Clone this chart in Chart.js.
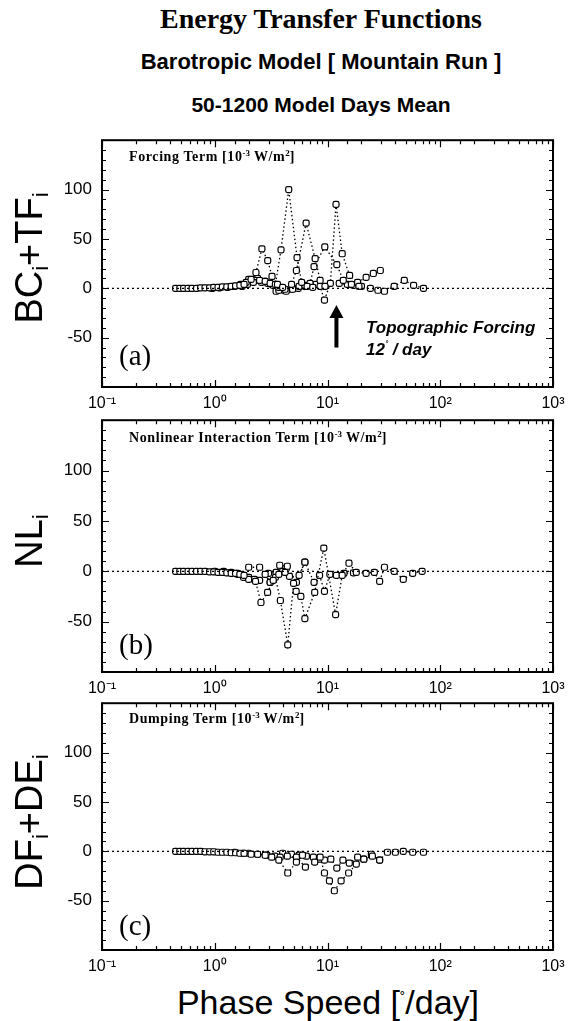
<!DOCTYPE html>
<html lang="en">
  <head>
    <meta charset="UTF-8" />
    <title>Energy Transfer Functions</title>
    <script src="https://cdn.jsdelivr.net/npm/chart.js"></script>
    <style>
      html,
      body {
        margin: 0;
        padding: 0;
        background: #fff;
      }
      #page {
        position: relative;
        width: 580px;
        height: 1021px;
        overflow: hidden;
        background: #fff;
        color: #000;
      }
      canvas {
        position: absolute;
        left: 0;
      }
      .txt {
        position: absolute;
        white-space: nowrap;
        line-height: 1;
      }
      .sans {
        font-family: "Liberation Sans", Arial, sans-serif;
      }
      .serif {
        font-family: "Liberation Serif", "Times New Roman", serif;
      }
      .center {
        transform: translate(-50%, -50%);
      }
      .ylab {
        transform: translate(-50%, -50%) rotate(-90deg);
        font-size: 38px;
      }
      .ylab sub {
        font-size: 22px;
        vertical-align: -6px;
      }
      .inner {
        font-size: 14px;
        font-weight: bold;
        letter-spacing: 0.6px;
        transform: translateY(-50%);
      }
      .inner sup {
        font-size: 9px;
        vertical-align: 5px;
        letter-spacing: 0;
      }
      .plab {
        font-size: 29px;
        transform: translateY(-50%);
      }
    </style>
  </head>
  <body>
    <div id="page">
      <div class="txt serif center" style="left: 321px; top: 19px; font-size: 28px; font-weight: bold">
        Energy Transfer Functions
      </div>
      <div class="txt sans center" style="left: 321px; top: 62px; font-size: 22px; font-weight: bold">
        Barotropic Model [ Mountain Run ]
      </div>
      <div class="txt sans center" style="left: 321px; top: 104px; font-size: 21px; font-weight: bold">
        50-1200 Model Days Mean
      </div>

      <canvas id="panelA" width="580" height="300" style="top: 120px"></canvas>
      <canvas id="panelB" width="580" height="305" style="top: 400px"></canvas>
      <canvas id="panelC" width="580" height="300" style="top: 683px"></canvas>

      <div class="txt sans ylab" style="left: 31px; top: 258px">BC<sub>i</sub>+TF<sub>i</sub></div>
      <div class="txt sans ylab" style="left: 31px; top: 541px">NL<sub>i</sub></div>
      <div class="txt sans ylab" style="left: 31px; top: 822px">DF<sub>i</sub>+DE<sub>i</sub></div>

      <div class="txt serif inner" style="left: 129px; top: 156px">
        Forcing Term [10<sup>-3</sup> W/m<sup>2</sup>]
      </div>
      <div class="txt serif inner" style="left: 129px; top: 437px">
        Nonlinear Interaction Term [10<sup>-3</sup> W/m<sup>2</sup>]
      </div>
      <div class="txt serif inner" style="left: 129px; top: 718px">
        Dumping Term [10<sup>-3</sup> W/m<sup>2</sup>]
      </div>

      <div class="txt serif plab" style="left: 119px; top: 355px">(a)</div>
      <div class="txt serif plab" style="left: 119px; top: 644px">(b)</div>
      <div class="txt serif plab" style="left: 119px; top: 925px">(c)</div>

      <div class="txt sans" style="left: 366px; top: 319px; font-size: 17px; font-weight: bold; font-style: italic">
        Topographic Forcing
      </div>
      <div class="txt sans" style="left: 366px; top: 341px; font-size: 17px; font-weight: bold; font-style: italic">
        12<sup style="font-size: 9px">˚</sup> / day
      </div>

      <div class="txt sans center" style="left: 328px; top: 1002px; font-size: 34px">
        Phase Speed [<sup style="font-size: 16px; vertical-align: 10px">˚</sup>/day]
      </div>
    </div>

    <script>
      // axis ticks
      const xTickValues = [0.1, 1, 10, 100, 1000];
      const xTickLabels = ["10⁻¹", "10⁰", "10¹", "10²", "10³"];
      const yTickLabels = [-50, 0, 50, 100];
      const topoSpeed = 12; // topographic forcing arrow

      // slow modes, shared by all panels
      const lowSpeeds = [0.45, 0.49, 0.53, 0.58, 0.63, 0.69, 0.75, 0.82, 0.9, 0.98, 1.07, 1.17, 1.28, 1.4, 1.53, 1.67, 1.82];

      // (a) forcing term, one row per series
      const forcingSpeeds = [
        lowSpeeds,
        [0.95, 1.1, 1.3, 1.5, 1.7, 1.9, 2.1, 2.32, 2.62, 2.95, 3.22, 3.6, 4.0],
        [1.75, 1.95, 2.2, 2.5, 2.8, 3.1, 3.45, 3.87, 4.53, 5.37, 5.9, 6.6, 7.4],
        [2.0, 2.3, 2.6, 2.95, 3.3, 3.7, 4.2, 4.8, 5.3, 6.46, 7.77, 8.6, 9.5],
        [2.4, 2.8, 3.2, 3.7, 4.3, 4.9, 5.6, 6.3, 7.0, 7.6, 9.46, 12.1, 13.8, 16.3, 19],
        [3.5, 4.1, 4.8, 5.5, 6.3, 7.1, 7.9, 8.6, 9.4, 10.6, 11.9, 13.5, 15.7, 18.5, 22, 25.5, 29.4],
        [12.7, 15, 17, 20, 24, 28, 32, 39, 48, 58, 71],
      ];
      const forcingValues = [
        [0, 0, 0, 0, 0, 0, 0.5, 0.5, 0.5, 1, 1, 1.5, 1.5, 2, 2.5, 3, 4],
        [0, 0.5, 1, 2, 4, 6, 9, 16, 40, 28, 12, 4, 1],
        [2, 4, 6, 8, 7, 5, 4, 39, 100, 31, 6, 2, 1],
        [9, 8, 6, 5, 3, 1, -1, 4, 18, 66, 30, 8, 2],
        [10, 7, 4, -2, -3, -1, 2, 3, 5, 22, 42, 24, 8, 4, 2],
        [-3, -2, -1, 0, 2, 3, 4, 2, -12, 5, 85, 35, 13, 6, 11, 15, 18],
        [5, 4, 3, 2, 0, -2, -3, 2, 8, 3, 0],
      ];

      // (b) nonlinear interaction term
      const nonlinSpeeds = [
        lowSpeeds,
        [1.0, 1.2, 1.4, 1.6, 1.8, 2.0, 2.3, 2.57, 2.94, 3.3, 3.7, 4.2],
        [1.6, 1.8, 2.0, 2.25, 2.5, 2.8, 3.1, 3.45, 3.82, 4.44, 5.0, 5.6, 6.3],
        [3.0, 3.5, 4.0, 4.6, 5.27, 5.8, 6.3, 7.7, 9.27, 11.8, 13.5, 15.5, 18, 22, 26, 29, 32, 39, 47, 57, 69],
        [2.0, 2.5, 3.1, 3.77, 4.4, 5.3, 6.3, 7.6, 8.5, 9.4, 10.5, 12, 14, 17],
      ];
      const nonlinValues = [
        [0, 0, 0, 0, 0, 0, 0, 0, -0.5, -0.5, -1, -1, -1.5, -2, -2, -3, -4],
        [0, 0, -1, -3, -6, -8, -10, -31, -21, -9, -3, -1],
        [-2, -4, -6, -8, -9, -3, -11, -6, -29, -73, -12, -4, 9],
        [-2, -1, 0, -5, -20, -25, -47, -21, 23, -43, -4, 8, -1, -2, -1, -10, 4, 0, -8, -2, 0],
        [4, 4, -11, 6, 5, -11, 9, -11, -4, -20, -3, -4, -2, -1.5],
      ];

      // (c) dumping term
      const dampSpeeds = [
        lowSpeeds,
        [1.5, 1.8, 2.1, 2.4, 2.8, 3.2, 3.7, 4.44, 5.3, 6.0],
        [2.0, 2.4, 2.9, 3.4, 3.8, 4.4, 5.3, 6.37, 7.7, 8.6, 9.4, 10.4, 11.5, 13.2, 15.4, 18, 21, 25, 29],
        [4.0, 4.8, 5.6, 6.5, 7.5, 8.5, 9.4, 10.7, 12.1, 13.7, 15.6, 18.5, 21, 24.5, 29, 34, 40, 47, 57, 71],
      ];
      const dampValues = [
        [0, 0, 0, 0, 0, 0, 0, -0.5, -0.5, -0.5, -1, -1, -1, -1.5, -1.5, -2, -2],
        [-1, -2, -3, -3, -4, -6, -9, -22, -11, -4],
        [-2, -3, -4, -5, -6, -5, -6, -16, -11, -6, -22, -30, -40, -30, -22, -13, -8, -5, -9],
        [-2, -3, -4, -5, -6, -8, -9, -8, -17, -9, -12, -6, -8, -3, -9, -1, -1, 0, -1, -1],
      ];

      const FONT = "'Liberation Sans', Arial, sans-serif";
      Chart.defaults.color = "#000";

      // box around the plot with inward ticks on all four sides
      const frameTicks = {
        id: "frameTicks",
        afterDraw(chart) {
          const { ctx, chartArea: a, scales } = chart;
          ctx.save();
          ctx.strokeStyle = "#000";
          ctx.lineWidth = 1.2;
          scales.x.ticks.forEach((t) => {
            const lg = Math.log10(t.value);
            const major = Math.abs(lg - Math.round(lg)) < 1e-6;
            const len = major ? 7 : 4;
            const px = Math.round(scales.x.getPixelForValue(t.value)) + 0.5;
            ctx.beginPath();
            ctx.moveTo(px, a.bottom);
            ctx.lineTo(px, a.bottom - len);
            ctx.moveTo(px, a.top);
            ctx.lineTo(px, a.top + len);
            ctx.stroke();
          });
          for (let v = -100; v <= 150; v += 10) {
            const len = v % 50 === 0 ? 7 : 4;
            const py = Math.round(scales.y.getPixelForValue(v)) + 0.5;
            ctx.beginPath();
            ctx.moveTo(a.left, py);
            ctx.lineTo(a.left + len, py);
            ctx.moveTo(a.right, py);
            ctx.lineTo(a.right - len, py);
            ctx.stroke();
          }
          ctx.lineWidth = 2;
          ctx.strokeRect(a.left, a.top, a.right - a.left, a.bottom - a.top);
          ctx.restore();
        },
      };

      // arrow marking the topographic forcing speed
      const topoArrow = {
        id: "topoArrow",
        afterDatasetsDraw(chart) {
          const { ctx, scales } = chart;
          const x = scales.x.getPixelForValue(topoSpeed);
          const yTip = scales.y.getPixelForValue(-17);
          const yEnd = scales.y.getPixelForValue(-60);
          ctx.save();
          ctx.fillStyle = "#000";
          ctx.fillRect(x - 2, yTip + 10, 4, yEnd - yTip - 10);
          ctx.beginPath();
          ctx.moveTo(x, yTip);
          ctx.lineTo(x - 7, yTip + 13);
          ctx.lineTo(x + 7, yTip + 13);
          ctx.closePath();
          ctx.fill();
          ctx.restore();
        },
      };

      function buildPanel(id, speeds, values, extra) {
        const datasets = [
          {
            data: [
              { x: xTickValues[0], y: 0 },
              { x: xTickValues[xTickValues.length - 1], y: 0 },
            ],
            showLine: true,
            borderColor: "#000",
            borderWidth: 1.2,
            borderDash: [2, 3],
            pointRadius: 0,
          },
        ];
        speeds.forEach((xs, i) => {
          datasets.push({
            data: xs.map((x, j) => ({ x: x, y: values[i][j] })),
            showLine: true,
            borderColor: "#000",
            borderWidth: 1.3,
            borderDash: [1.5, 2.5],
            pointStyle: "rectRounded",
            pointRadius: 3.5,
            pointBorderWidth: 1.2,
            pointBorderColor: "#000",
            pointBackgroundColor: "#fff",
          });
        });

        return new Chart(document.getElementById(id), {
          type: "scatter",
          data: { datasets: datasets },
          options: {
            responsive: false,
            animation: false,
            layout: { padding: { top: 18, right: 27, left: 0, bottom: 0 } },
            plugins: { legend: { display: false }, tooltip: { enabled: false } },
            scales: {
              x: {
                type: "logarithmic",
                min: 0.1,
                max: 1000,
                grid: { display: false, drawTicks: false },
                border: { display: false },
                ticks: {
                  autoSkip: false,
                  maxRotation: 0,
                  padding: 7,
                  font: { family: FONT, size: 16 },
                  callback: (v) => {
                    const k = xTickValues.findIndex((t) => Math.abs(Math.log10(t) - Math.log10(v)) < 1e-6);
                    return k >= 0 ? xTickLabels[k] : "";
                  },
                },
                afterFit: (s) => {
                  s.height = 33;
                },
              },
              y: {
                min: -100,
                max: 150,
                grid: { display: false, drawTicks: false },
                border: { display: false },
                ticks: {
                  stepSize: 10,
                  autoSkip: false,
                  padding: 10,
                  font: { family: FONT, size: 17 },
                  callback: (v) => (yTickLabels.includes(v) ? String(v) : ""),
                },
                afterFit: (s) => {
                  s.width = 102;
                },
              },
            },
          },
          plugins: [frameTicks].concat(extra || []),
        });
      }

      buildPanel("panelA", forcingSpeeds, forcingValues, [topoArrow]);
      buildPanel("panelB", nonlinSpeeds, nonlinValues);
      buildPanel("panelC", dampSpeeds, dampValues);
    </script>
  </body>
</html>
